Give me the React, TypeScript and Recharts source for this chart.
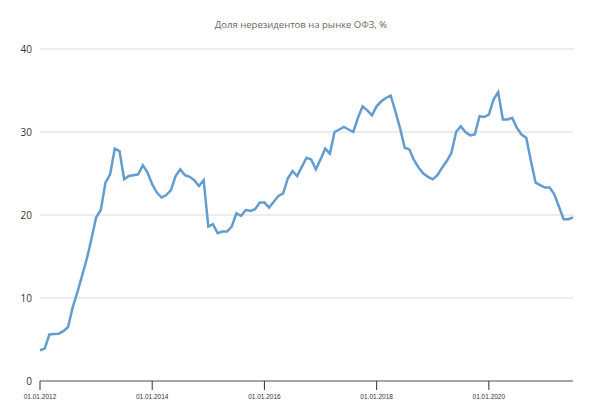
import { LineChart, Line, XAxis, YAxis, CartesianGrid } from "recharts";

// monthly share of non-residents, Jan 2012 .. Jul 2021
const startYear = 2012;
const shares: number[] = [
  // 2012
  3.7, 3.9, 5.6, 5.65, 5.7, 6.0, 6.5, 8.9, 10.7, 12.7, 14.7, 17.1,
  // 2013
  19.7, 20.6, 23.9, 24.9, 28.0, 27.7, 24.3, 24.7, 24.8, 24.9, 26.0, 25.1,
  // 2014
  23.7, 22.7, 22.1, 22.4, 23.0, 24.7, 25.5, 24.8, 24.6, 24.2, 23.5, 24.2,
  // 2015
  18.6, 18.9, 17.8, 18.0, 18.0, 18.6, 20.2, 19.9, 20.6, 20.5, 20.7, 21.5,
  // 2016
  21.5, 20.9, 21.6, 22.3, 22.6, 24.4, 25.3, 24.7, 25.8, 26.9, 26.7, 25.5,
  // 2017
  26.7, 28.0, 27.4, 30.0, 30.3, 30.6, 30.3, 30.0, 31.7, 33.1, 32.6, 32.0,
  // 2018
  33.1, 33.7, 34.1, 34.4, 32.5, 30.5, 28.1, 27.9, 26.6, 25.7, 25.0, 24.6,
  // 2019
  24.3, 24.8, 25.7, 26.5, 27.5, 30.0, 30.7, 30.0, 29.6, 29.7, 31.9, 31.8,
  // 2020
  32.1, 33.9, 34.8, 31.5, 31.5, 31.7, 30.5, 29.7, 29.3, 26.5, 23.9, 23.6,
  // 2021
  23.3, 23.3, 22.5, 21.0, 19.5, 19.5, 19.7,
];

const dates: string[] = shares.map((_, i) => {
  const month = (i % 12) + 1;
  const year = startYear + Math.floor(i / 12);
  return `01.${String(month).padStart(2, "0")}.${year}`;
});

const xTicks = ["01.01.2012", "01.01.2014", "01.01.2016", "01.01.2018", "01.01.2020"];
const yTicks = [0, 10, 20, 30, 40];
const title = "Доля нерезидентов на рынке ОФЗ, %";

const data = dates.map((date, i) => ({ date, share: shares[i] }));

export default function App() {
  return (
    <div style={{ position: "absolute", left: 0, top: 0, width: 590, height: 417, background: "#fff" }}>
      <div
        style={{
          position: "absolute",
          top: 18,
          left: 6,
          width: 590,
          textAlign: "center",
          fontFamily: "'Open Sans', sans-serif",
          fontSize: 9.5,
          color: "#666",
        }}
      >
        {title}
      </div>
      <LineChart width={590} height={417} data={data} margin={{ top: 49, right: 17, bottom: 0, left: 0 }}>
        <CartesianGrid vertical={false} stroke="#d9d9d9" />
        <XAxis
          dataKey="date"
          ticks={xTicks}
          interval={0}
          height={36}
          axisLine={{ stroke: "#a6a6a6", strokeWidth: 2 }}
          tickLine={{ stroke: "#333" }}
          tickSize={9}
          tickMargin={4}
          tick={{ fontSize: 6.5, fill: "#333", fontFamily: "'Liberation Sans', sans-serif" }}
        />
        <YAxis
          domain={[0, 40]}
          ticks={yTicks}
          width={40}
          axisLine={false}
          tickLine={false}
          tick={{ fontSize: 10, fill: "#333", fontFamily: "'Open Sans', sans-serif" }}
        />
        <Line
          type="linear"
          dataKey="share"
          stroke="#639dcf"
          strokeWidth={2.5}
          dot={false}
          isAnimationActive={false}
        />
      </LineChart>
    </div>
  );
}
